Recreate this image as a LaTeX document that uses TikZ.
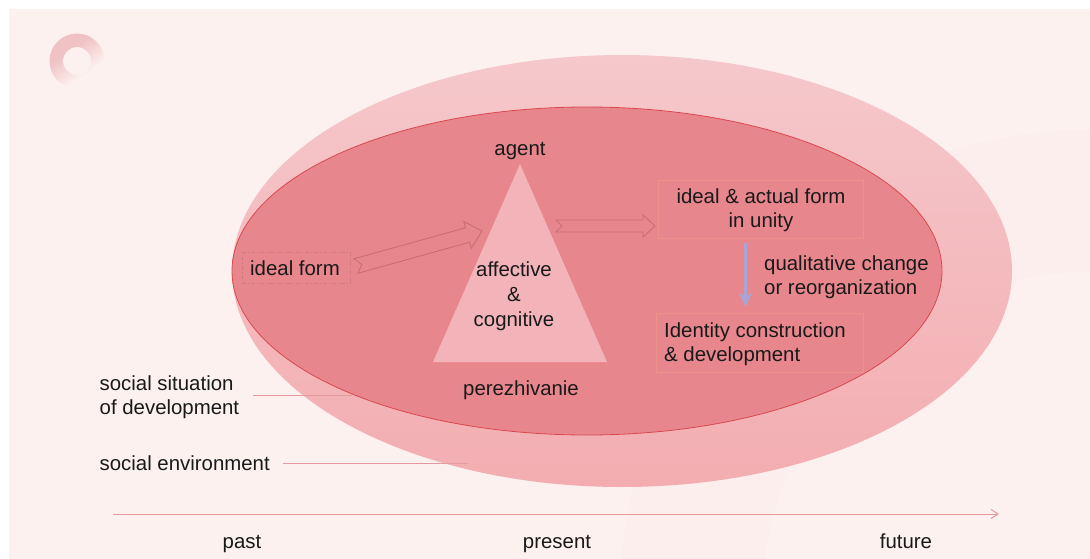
\documentclass[tikz,border=0pt]{standalone}
\usepackage{fontspec}
\setmainfont{Liberation Sans}
\usetikzlibrary{calc}
\usetikzlibrary{arrows.meta}

\definecolor{pagebg}{HTML}{FCF1EF}
\definecolor{ringfaint}{HTML}{FBEEEC}
\definecolor{logopink}{HTML}{F0C2C4}
\definecolor{envtop}{HTML}{F5C8CB}
\definecolor{envbottom}{HTML}{F3ADB1}
\definecolor{situationfill}{HTML}{E8868D}
\definecolor{situationline}{HTML}{D9484F}
\definecolor{trianglefill}{HTML}{F2B3B9}
\definecolor{hollowline}{HTML}{C86E76}
\definecolor{dashline}{HTML}{CF7A80}
\definecolor{boxline}{HTML}{EB9289}
\definecolor{changearrow}{HTML}{A9A5D6}
\definecolor{leaderline}{HTML}{E59A9E}

\pgfdeclareverticalshading{logofade}{100bp}{color(0bp)=(pagebg);color(36bp)=(pagebg);color(62bp)=(logopink);color(100bp)=(logopink)}

\tikzset{
  txt/.style={font=\fontsize{20.4}{24}\selectfont,text=black!90,inner sep=0pt,align=center},
  txtleft/.style={txt,align=left,anchor=west},
  formbox/.style={draw=boxline,line width=0.5pt,minimum width=205,minimum height=58,inner sep=0pt},
  hollowedge/.style={draw=hollowline,line width=0.9pt,line join=miter},
  leader/.style={draw=leaderline,line width=1pt}
}

\newcommand{\hollowarrow}[5]{%
  \coordinate (neck) at ($(#2)!#5pt!(#1)$);
  \draw[hollowedge] ($(#1)!#3pt!90:(#2)$) -- ($(neck)!#3pt!90:(#2)$) -- ($(neck)!#4pt!90:(#2)$) -- (#2)
    -- ($(neck)!#4pt!-90:(#2)$) -- ($(neck)!#3pt!-90:(#2)$) -- ($(#1)!#3pt!-90:(#2)$) -- ($(#1)!6pt!(#2)$) -- cycle;
}

\begin{document}
\begin{tikzpicture}[x=1pt,y=-1pt]
\useasboundingbox (0,0) rectangle (1090,559);
\fill[pagebg] (9,9) rectangle (1090,559);

% faint ring behind everything
\begin{scope}
  \clip (9,9) rectangle (1090,559);
  \fill[ringfaint,even odd rule] (1090,600) circle [radius=470] (1090,600) circle [radius=328];
\end{scope}

% logo
\path[even odd rule,shade,shading=logofade,shading angle=35]
  (77,61) circle [radius=27.5] (77,61) circle [radius=14];

% ellipses
\path[top color=envtop,bottom color=envbottom] (622,271) ellipse [x radius=390,y radius=216];
\draw[situationline,fill=situationfill,line width=0.8pt] (587,271) ellipse [x radius=355,y radius=164];

% triangle
\fill[trianglefill] (520,164) -- (607,362) -- (433,362) -- cycle;

% labels
\node[txt] (agent) at (520,151) {agent};
\node[txt] (core) at (514,296) {affective\\[1pt]\&\\[1pt]cognitive};
\node[txt] (perezhivanie) at (521,390) {perezhivanie};
\node[txt,draw=dashline,dash pattern=on 4pt off 2pt on 1pt off 2pt,line width=0.5pt,minimum width=108,minimum height=31] (idealform) at (296,267.5) {};
\node[txt] (idealtext) at (295,268.5) {ideal form};
\node[txt,formbox] (unity) at (760.5,209) {};
\node[txt] (unitytext) at (761,210) {ideal \& actual form\\in unity};
\node[txt,formbox,minimum width=207,minimum height=59] (identity) at (759.5,342.5) {};
\node[txtleft] (identitytext) at (664,344.5) {Identity construction\\\& development};
\node[txtleft] (change) at (764,277) {qualitative change\\or reorganization};
\node[txtleft] (situation) at (99.5,397) {social situation\\of development};
\node[txtleft] (environment) at (99.5,463.5) {social environment};
\node[txt] (past) at (242,544) {past};
\node[txt] (present) at (557,544) {present};
\node[txt] (future) at (906,541) {future};

% free ends
\coordinate (idealtail) at (356,266);
\coordinate (trianglein) at (482,231);
\coordinate (triangleout) at (556,226);
\coordinate (unityin) at (655,226);
\coordinate (situationstart) at (253,395);
\coordinate (situationend) at (352,395);
\coordinate (environmentstart) at (283,463);
\coordinate (environmentend) at (468,463);
\coordinate (timestart) at (113,514);
\coordinate (timeend) at (999,514);

% connectors
\hollowarrow{idealtail}{trianglein}{7.5}{14}{15}
\hollowarrow{triangleout}{unityin}{6}{11}{12}
\draw[changearrow,line width=3pt,-{Stealth[length=14pt,width=13pt,inset=4pt]},shorten >=6pt,shorten <=5pt] ([xshift=-15pt]unity.south) -- ([xshift=-14pt]identity.north);
\draw[leader] (situationstart) -- (situationend);
\draw[leader] (environmentstart) -- (environmentend);
\draw[leader,-{Straight Barb[length=7pt,width=9pt]}] (timestart) -- (timeend);
\end{tikzpicture}
\end{document}
